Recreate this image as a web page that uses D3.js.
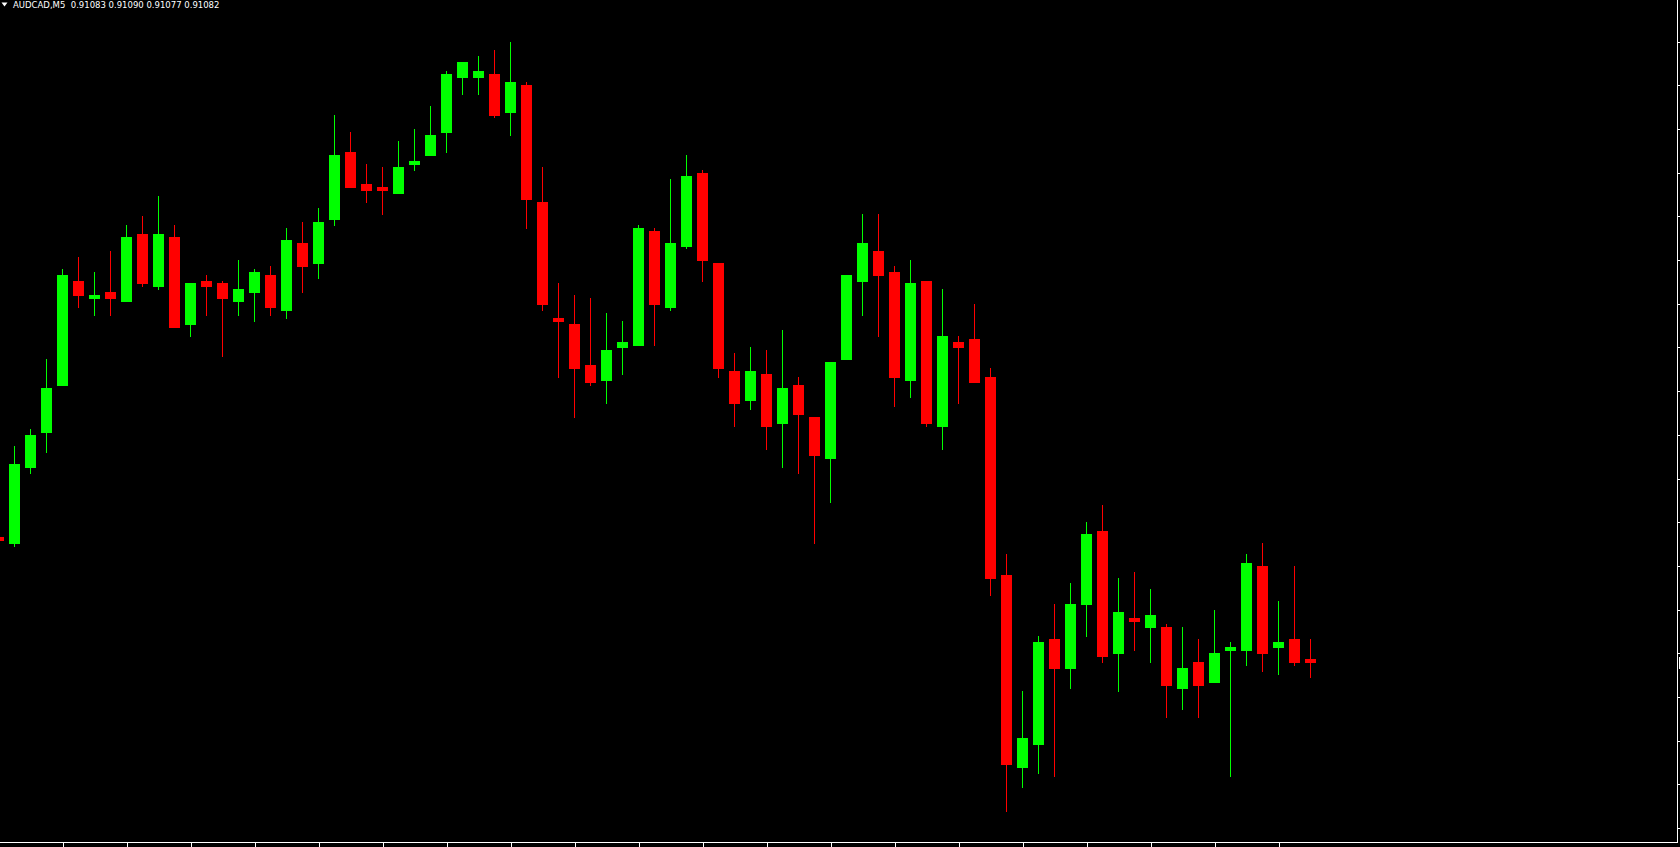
<!DOCTYPE html>
<html>
<head>
<meta charset="utf-8">
<script src="https://cdn.jsdelivr.net/npm/d3@7"></script>
<style>
  html, body { margin: 0; padding: 0; background: #000; overflow: hidden; }
  svg { display: block; }
</style>
</head>
<body>
<div id="chart"></div>
<script>
const symbolLabel = 'AUDCAD,M5';
const lastBar = ['0.91083', '0.91090', '0.91077', '0.91082'];

// M5 bars, oldest first (the first one is cut by the left edge)
const barIndex = d3.range(-1, 82);
const open = [
  0.91125, 0.91123, 0.91149, 0.91161, 0.91177, 0.91213, 0.91207, 0.91209, 0.91206, 0.91229,
  0.91211, 0.91228, 0.91198, 0.91213, 0.91212, 0.91206, 0.91209, 0.91215, 0.91203, 0.91226,
  0.91219, 0.91234, 0.91257, 0.91246, 0.91245, 0.91243, 0.91253, 0.91256, 0.91264, 0.91283,
  0.91283, 0.91284, 0.91271, 0.91280, 0.91240, 0.91200, 0.91198, 0.91184, 0.91179, 0.91190,
  0.91191, 0.91230, 0.91204, 0.91225, 0.91250, 0.91219, 0.91182, 0.91172, 0.91181, 0.91164,
  0.91177, 0.91166, 0.91152, 0.91186, 0.91213, 0.91223, 0.91216, 0.91179, 0.91213, 0.91163,
  0.91192, 0.91193, 0.91180, 0.91112, 0.91046, 0.91054, 0.91090, 0.91080, 0.91102, 0.91127,
  0.91085, 0.91097, 0.91094, 0.91094, 0.91073, 0.91082, 0.91075, 0.91086, 0.91086, 0.91115,
  0.91087, 0.91090, 0.91083
];
const high = [
  0.91127, 0.91156, 0.91162, 0.91186, 0.91217, 0.91221, 0.91216, 0.91223, 0.91232, 0.91235,
  0.91242, 0.91232, 0.91212, 0.91215, 0.91213, 0.91220, 0.91217, 0.91218, 0.91231, 0.91233,
  0.91238, 0.91270, 0.91264, 0.91253, 0.91252, 0.91261, 0.91265, 0.91273, 0.91285, 0.91288,
  0.91290, 0.91292, 0.91295, 0.91281, 0.91252, 0.91212, 0.91208, 0.91207, 0.91202, 0.91199,
  0.91232, 0.91231, 0.91248, 0.91256, 0.91251, 0.91219, 0.91188, 0.91190, 0.91189, 0.91196,
  0.91180, 0.91166, 0.91185, 0.91215, 0.91236, 0.91236, 0.91218, 0.91220, 0.91213, 0.91210,
  0.91194, 0.91205, 0.91183, 0.91119, 0.91072, 0.91091, 0.91102, 0.91109, 0.91130, 0.91136,
  0.91111, 0.91113, 0.91107, 0.91095, 0.91094, 0.91090, 0.91100, 0.91089, 0.91119, 0.91123,
  0.91103, 0.91115, 0.91090
];
const low = [
  0.91121, 0.91122, 0.91147, 0.91154, 0.91177, 0.91204, 0.91201, 0.91201, 0.91206, 0.91211,
  0.91210, 0.91197, 0.91194, 0.91201, 0.91187, 0.91201, 0.91199, 0.91201, 0.91200, 0.91209,
  0.91214, 0.91232, 0.91245, 0.91240, 0.91236, 0.91243, 0.91251, 0.91256, 0.91257, 0.91277,
  0.91277, 0.91269, 0.91263, 0.91231, 0.91203, 0.91180, 0.91166, 0.91177, 0.91171, 0.91181,
  0.91191, 0.91191, 0.91203, 0.91224, 0.91213, 0.91180, 0.91163, 0.91169, 0.91155, 0.91149,
  0.91147, 0.91123, 0.91137, 0.91186, 0.91201, 0.91194, 0.91170, 0.91173, 0.91163, 0.91155,
  0.91171, 0.91178, 0.91105, 0.91031, 0.91039, 0.91044, 0.91043, 0.91073, 0.91091, 0.91082,
  0.91072, 0.91086, 0.91082, 0.91063, 0.91066, 0.91063, 0.91075, 0.91043, 0.91081, 0.91079,
  0.91078, 0.91081, 0.91077
];
const close = [
  0.91124, 0.91150, 0.91160, 0.91176, 0.91215, 0.91208, 0.91208, 0.91207, 0.91228, 0.91212,
  0.91229, 0.91197, 0.91212, 0.91211, 0.91207, 0.91210, 0.91216, 0.91204, 0.91227, 0.91218,
  0.91233, 0.91256, 0.91245, 0.91244, 0.91244, 0.91252, 0.91254, 0.91263, 0.91284, 0.91288,
  0.91285, 0.91270, 0.91281, 0.91241, 0.91205, 0.91199, 0.91183, 0.91178, 0.91189, 0.91192,
  0.91231, 0.91205, 0.91226, 0.91249, 0.91220, 0.91183, 0.91171, 0.91182, 0.91163, 0.91176,
  0.91167, 0.91153, 0.91185, 0.91215, 0.91226, 0.91215, 0.91180, 0.91212, 0.91164, 0.91194,
  0.91190, 0.91178, 0.91111, 0.91047, 0.91056, 0.91089, 0.91080, 0.91102, 0.91126, 0.91084,
  0.91099, 0.91096, 0.91098, 0.91074, 0.91080, 0.91074, 0.91085, 0.91087, 0.91116, 0.91085,
  0.91089, 0.91082, 0.91082
];

// price grid on the right scale (labels fall outside the window)
const priceTicks = [
  0.91295, 0.91280, 0.91265, 0.91250, 0.91235, 0.91220, 0.91205, 0.91190, 0.91175, 0.91160,
  0.91145, 0.91130, 0.91115, 0.91100, 0.91085, 0.91070, 0.91055, 0.91040, 0.91025
];
// time scale marks every 4 bars
const timeTickBars = d3.range(3, 82, 4);

const W = 1680, H = 847;
const frameRight = 1677.5, frameBottom = 842.5;
const bull = '#00ff00', bear = '#ff0000', fg = '#ffffff';

const svg = d3.select('#chart').append('svg')
  .attr('width', W)
  .attr('height', H)
  .style('background', '#000');

const x = d3.scaleLinear()
  .domain([barIndex[0], barIndex[barIndex.length - 1]])
  .range([-1.5, -1.5 + 16 * (barIndex.length - 1)]);

const y = d3.scaleLinear()
  .domain([0.91025, 0.91295])
  .range([828, 41.7]);

const bars = barIndex.map((b, i) => ({ b, o: open[i], h: high[i], l: low[i], c: close[i] }));

const plot = svg.append('g').attr('shape-rendering', 'crispEdges');

// wicks
plot.selectAll('rect.wick')
  .data(bars)
  .enter()
  .append('rect')
  .attr('class', 'wick')
  .attr('x', d => x(d.b) - 0.5)
  .attr('y', d => Math.round(y(d.h)))
  .attr('width', 1)
  .attr('height', d => Math.round(y(d.l)) - Math.round(y(d.h)) + 1)
  .attr('fill', d => d.c >= d.o ? bull : bear);

// bodies
plot.selectAll('rect.body')
  .data(bars)
  .enter()
  .append('rect')
  .attr('class', 'body')
  .attr('x', d => x(d.b) - 5.5)
  .attr('y', d => Math.round(y(Math.max(d.o, d.c))))
  .attr('width', 11)
  .attr('height', d => Math.round(y(Math.min(d.o, d.c))) - Math.round(y(Math.max(d.o, d.c))) + 1)
  .attr('fill', d => d.c >= d.o ? bull : bear);

// frame
const frame = svg.append('g').attr('shape-rendering', 'crispEdges');
frame.append('line')
  .attr('x1', frameRight).attr('x2', frameRight)
  .attr('y1', 0).attr('y2', frameBottom)
  .attr('stroke', fg);
frame.append('line')
  .attr('x1', 0).attr('x2', frameRight)
  .attr('y1', frameBottom).attr('y2', frameBottom)
  .attr('stroke', fg);

// price axis
const yAxis = svg.append('g')
  .attr('transform', `translate(${frameRight},0)`)
  .attr('shape-rendering', 'crispEdges')
  .call(d3.axisRight(y).tickValues(priceTicks).tickSize(3).tickFormat(''));
yAxis.select('.domain').remove();
yAxis.selectAll('line').attr('stroke', fg);

// time axis
const xAxis = svg.append('g')
  .attr('transform', `translate(0,${frameBottom})`)
  .attr('shape-rendering', 'crispEdges')
  .call(d3.axisBottom(x).tickValues(timeTickBars).tickSize(5).tickFormat(''));
xAxis.select('.domain').remove();
xAxis.selectAll('line').attr('stroke', fg);

// current price marker on the scale
const lastClose = close[close.length - 1];
svg.append('rect')
  .attr('shape-rendering', 'crispEdges')
  .attr('x', frameRight + 1.5)
  .attr('y', Math.round(y(lastClose)) - 5 + 0.5)
  .attr('width', 20)
  .attr('height', 11)
  .attr('fill', '#000')
  .attr('stroke', fg);

// title
svg.append('path')
  .attr('d', 'M1.5,2.5 L7.5,2.5 L4.5,6.5 Z')
  .attr('fill', fg);
svg.append('text')
  .attr('x', 13)
  .attr('y', 8)
  .attr('fill', fg)
  .style('font-family', '"DejaVu Sans", sans-serif')
  .style('font-size', '8.5px')
  .style('white-space', 'pre')
  .text(`${symbolLabel}  ${lastBar.join(' ')}`);
</script>
</body>
</html>
